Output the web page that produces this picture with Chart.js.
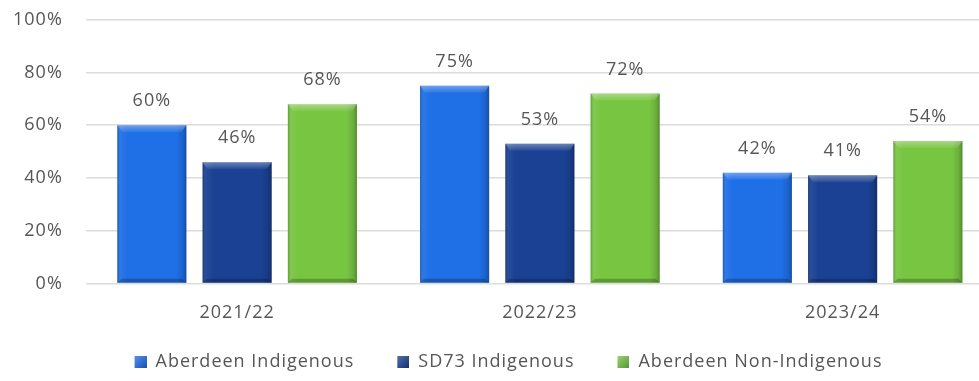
<!DOCTYPE html>
<html>
<head>
<meta charset="utf-8">
<script src="https://cdn.jsdelivr.net/npm/chart.js@4.4.1/dist/chart.umd.min.js"></script>
<style>
  html, body { margin: 0; padding: 0; background: #fff; overflow: hidden; }
  #wrap { position: relative; width: 979px; height: 381px; overflow: hidden; }
  #chart { position: absolute; left: -10px; top: -14px; display: block; }
</style>
</head>
<body>
<div id="wrap"><canvas id="chart" width="1020" height="395"></canvas></div>
<script>
// school years on the x axis
const years = ['2021/22', '2022/23', '2023/24'];

// completion rates, percent
const aberdeenIndigenous = [60, 75, 42];
const sd73Indigenous = [46, 53, 41];
const aberdeenNonIndigenous = [68, 72, 54];

const yTicks = [0, 20, 40, 60, 80, 100];

const colours = ['#1f6fe6', '#1a4193', '#78c542'];

const FONT = "'Open Sans', sans-serif";
const GREY = '#565656';

// legend square, drawn at the right end of a wider transparent icon
// so there is room between the legend entries
function legendIcon(colour) {
  const c = document.createElement('canvas');
  c.width = 45;
  c.height = 12;
  const g = c.getContext('2d');
  g.fillStyle = colour;
  g.fillRect(33, 0, 12, 12);
  const sh = g.createLinearGradient(33, 0, 45, 12);
  sh.addColorStop(0, 'rgba(255,255,255,0.25)');
  sh.addColorStop(1, 'rgba(0,0,0,0.25)');
  g.fillStyle = sh;
  g.fillRect(33, 0, 12, 12);
  return c;
}
const icons = colours.map(legendIcon);

// a bit of letter spacing for all canvas text
const spacing = {
  id: 'spacing',
  beforeUpdate(chart) { chart.ctx.letterSpacing = '1px'; },
  beforeDraw(chart) { chart.ctx.letterSpacing = '1px'; }
};

// bevel look: darker sides, light top edge, dark bottom edge
const bevelPlugin = {
  id: 'bevel',
  afterDatasetsDraw(chart) {
    const ctx = chart.ctx;
    chart.data.datasets.forEach((ds, i) => {
      const meta = chart.getDatasetMeta(i);
      meta.data.forEach(bar => {
        const x0 = bar.x - bar.width / 2;
        const x1 = bar.x + bar.width / 2;
        const top = bar.y;
        const bottom = bar.base;
        ctx.save();
        const g = ctx.createLinearGradient(x0, 0, x1, 0);
        g.addColorStop(0, 'rgba(0,0,0,0.22)');
        g.addColorStop(0.05, 'rgba(255,255,255,0.06)');
        g.addColorStop(0.15, 'rgba(255,255,255,0)');
        g.addColorStop(0.85, 'rgba(0,0,0,0)');
        g.addColorStop(0.95, 'rgba(0,0,0,0.12)');
        g.addColorStop(1, 'rgba(0,0,0,0.3)');
        ctx.fillStyle = g;
        ctx.fillRect(x0, top, x1 - x0, bottom - top);

        // top bevel
        ctx.beginPath();
        ctx.moveTo(x0, top);
        ctx.lineTo(x1, top);
        ctx.lineTo(x1 - 5, top + 7);
        ctx.lineTo(x0 + 5, top + 7);
        ctx.closePath();
        const tg = ctx.createLinearGradient(0, top, 0, top + 7);
        tg.addColorStop(0, 'rgba(255,255,255,0.35)');
        tg.addColorStop(1, 'rgba(255,255,255,0.05)');
        ctx.fillStyle = tg;
        ctx.fill();

        // bottom bevel
        ctx.beginPath();
        ctx.moveTo(x0, bottom);
        ctx.lineTo(x1, bottom);
        ctx.lineTo(x1 - 4, bottom - 4);
        ctx.lineTo(x0 + 4, bottom - 4);
        ctx.closePath();
        ctx.fillStyle = 'rgba(0,0,0,0.22)';
        ctx.fill();
        ctx.restore();
      });
    });
  }
};

// percentage above each bar
const valueLabels = {
  id: 'valueLabels',
  afterDatasetsDraw(chart) {
    const ctx = chart.ctx;
    ctx.save();
    ctx.font = '18px ' + FONT;
    ctx.fillStyle = GREY;
    ctx.textAlign = 'center';
    ctx.textBaseline = 'middle';
    chart.data.datasets.forEach((ds, i) => {
      chart.getDatasetMeta(i).data.forEach((bar, j) => {
        ctx.fillText(ds.data[j] + '%', bar.x, bar.y - 24);
      });
    });
    ctx.restore();
  }
};

const ctx = document.getElementById('chart').getContext('2d');
new Chart(ctx, {
  type: 'bar',
  data: {
    labels: years,
    datasets: [
      { label: 'Aberdeen Indigenous', data: aberdeenIndigenous, backgroundColor: colours[0] },
      { label: 'SD73 Indigenous', data: sd73Indigenous, backgroundColor: colours[1] },
      { label: 'Aberdeen Non-Indigenous', data: aberdeenNonIndigenous, backgroundColor: colours[2] }
    ]
  },
  options: {
    responsive: false,
    animation: false,
    layout: { padding: { top: 0, right: 16, bottom: 0, left: 0 } },
    datasets: {
      bar: { categoryPercentage: 0.845, barPercentage: 0.81 }
    },
    scales: {
      x: {
        grid: { display: false, drawTicks: false },
        border: { display: false },
        ticks: { color: GREY, font: { family: FONT, size: 18 }, padding: 19 }
      },
      y: {
        min: 0,
        max: 100,
        afterBuildTicks(scale) { scale.ticks = yTicks.map(v => ({ value: v })); },
        grid: { color: '#dcdcdc', lineWidth: 1.5, drawTicks: false },
        border: { display: false },
        ticks: {
          color: GREY,
          font: { family: FONT, size: 18 },
          padding: 23,
          callback: v => v + '%'
        }
      }
    },
    plugins: {
      legend: {
        position: 'bottom',
        labels: {
          color: GREY,
          font: { family: FONT, size: 18 },
          usePointStyle: true,
          pointStyleWidth: 45,
          boxHeight: 12,
          padding: 10,
          generateLabels(chart) {
            const items = Chart.defaults.plugins.legend.labels.generateLabels(chart);
            return items.map((it, i) => Object.assign(it, { pointStyle: icons[i] }));
          }
        }
      },
      tooltip: { enabled: false }
    }
  },
  plugins: [spacing, bevelPlugin, valueLabels]
});
</script>
</body>
</html>
